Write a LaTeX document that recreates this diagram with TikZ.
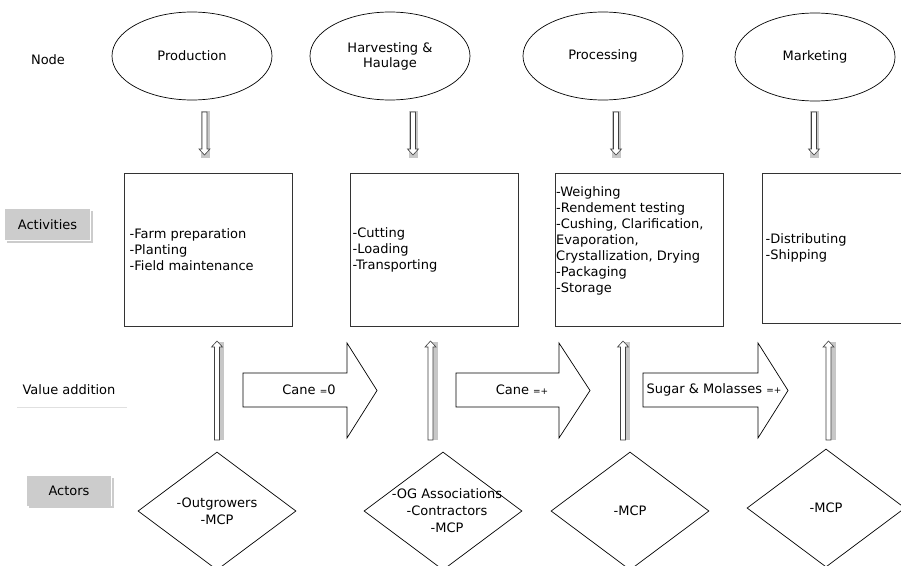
\documentclass[tikz,border=0pt]{standalone}
\usepackage{fontspec}
\setmainfont{DejaVu Sans}
\usetikzlibrary{shapes.geometric,calc}

% small operator glyphs in the flow labels
\newcommand\smallop[1]{{\fontsize{9}{9}\selectfont #1}}

% thin hollow arrow pointing down: centre x, tail y, tip y
\newcommand\dnarrow[3]{%
  \fill[armshadow] (#1-4,#2-1) rectangle (#1+5,#3+3);
  \draw[thinarrow] (#1-2.5,#2) -- (#1+2.5,#2) -- (#1+2.5,#3-6) -- (#1+5.5,#3-6)
    -- (#1,#3) -- (#1-5.5,#3-6) -- (#1-2.5,#3-6) -- cycle;}
% thin hollow arrow pointing up: centre x, tip y, tail y
\newcommand\uparr[3]{%
  \fill[armshadow] (#1-1,#2+1) rectangle (#1+7,#3);
  \draw[thinarrow] (#1-2.5,#3) -- (#1+2.5,#3) -- (#1+2.5,#2+6) -- (#1+5.5,#2+6)
    -- (#1,#2) -- (#1-5.5,#2+6) -- (#1-2.5,#2+6) -- cycle;}
% wide block arrow: name, tail x, head base x, tip x, label centre x, label
\newcommand\flowarrow[6]{%
  \draw[bigarrow] (#2,373) -- (#3,373) -- (#3,343) -- (#4,390.5) -- (#3,438)
    -- (#3,407) -- (#2,407) -- cycle;
  \node[inner sep=0pt] (#1) at (#5,390) {#6};}

\begin{document}
\begin{tikzpicture}[x=1pt,y=-1pt,
  font=\fontsize{13}{16}\selectfont,
  stage/.style={draw, ellipse, line width=0.7pt, minimum width=160pt,
    minimum height=88pt, align=center, inner sep=0pt,
    font=\fontsize{13}{15}\selectfont},
  actbox/.style={draw=black!80, line width=1pt, rectangle,
    minimum width=168pt, minimum height=153pt, inner sep=0pt},
  acttext/.style={anchor=west, align=left, inner sep=0pt},
  actor/.style={draw, diamond, line width=0.7pt, minimum width=158pt,
    minimum height=118pt, inner sep=0pt},
  actortext/.style={align=center, inner sep=0pt,
    font=\fontsize{13}{17}\selectfont},
  tag/.style={fill=black!20, minimum width=85pt, minimum height=31pt, inner sep=0pt},
  tagedge/.style={draw=black!20, line width=1.2pt},
  bigarrow/.style={draw, line width=0.7pt, fill=white, line join=miter},
  thinarrow/.style={draw=black!75, line width=0.6pt, fill=white},
  armshadow/.style={fill=black!22},
]
\useasboundingbox (0,0) rectangle (901,565);
\fill[white] (0,0) rectangle (901,565);
\clip (0,0) rectangle (901,565);

% row labels
\node[inner sep=0pt] (lnode) at (48,60) {Node};
\draw[tagedge] (7,242) -- (92,242) -- (92,211);
\node[tag] (lact) at (47.5,224.5) {Activities};
\node[inner sep=0pt] (lval) at (69,390) {Value addition};
\draw[black!12, line width=0.5pt] (17,407) -- (127,407);
\draw[tagedge] (29,507) -- (113,507) -- (113,478);
\node[tag, minimum width=84pt, minimum height=30pt] (lactors) at (69,491) {Actors};

% chain stages
\node[stage] (prod) at (192,56) {Production};
\node[stage] (harv) at (390,56) {Harvesting \&\\Haulage};
\node[stage] (proc) at (603,56) {Processing};
\node[stage] (mark) at (815,57) {Marketing};

% stage to activity arrows
\dnarrow{204.5}{112}{155}
\dnarrow{413}{112}{155}
\dnarrow{616}{112}{155}
\dnarrow{814}{112}{155}

% activities
\node[actbox] (act1) at (208,249.5) {};
\node[actbox] (act2) at (434,249.5) {};
\node[actbox] (act3) at (639,249.5) {};
\node[actbox, minimum height=150pt] (act4) at (846,248) {};
\node[acttext] (txt1) at ($(act1.west)+(6,0)$)
  {-Farm preparation\\-Planting\\-Field maintenance};
\node[acttext] (txt2) at ($(act2.west)+(3,0)$)
  {-Cutting\\-Loading\\-Transporting};
\node[acttext] (txt3) at ($(act3.west)+(1.5,-8.5)$)
  {-Weighing\\-Rendement testing\\-Cushing, Clarification,\\Evaporation,\\Crystallization, Drying\\-Packaging\\-Storage};
\node[acttext] (txt4) at ($(act4.west)+(4,0)$)
  {-Distributing\\-Shipping};

% value addition
\uparr{217}{341}{440}
\uparr{430.5}{341}{440}
\uparr{623}{341}{440}
\uparr{828.5}{341}{440}
\flowarrow{va1}{243}{347}{377}{309}{Cane \smallop{=}0}
\flowarrow{va2}{456}{559}{590}{522}{Cane \smallop{=+}}
\flowarrow{va3}{643}{758}{788}{714}{Sugar \& Molasses \smallop{=+}}

% actors
\node[actor] (act1a) at (217,511) {};
\node[actor] (act2a) at (443,511) {};
\node[actor] (act3a) at (630,511) {};
\node[actor] (act4a) at (826,508) {};
\node[actortext] (who1) at (act1a.center) {-Outgrowers\\-MCP};
\node[actortext] (who2) at ($(act2a.center)+(4,-0.5)$) {-OG Associations\\-Contractors\\-MCP};
\node[actortext] (who3) at (act3a.center) {-MCP};
\node[actortext] (who4) at (act4a.center) {-MCP};
\end{tikzpicture}
\end{document}
